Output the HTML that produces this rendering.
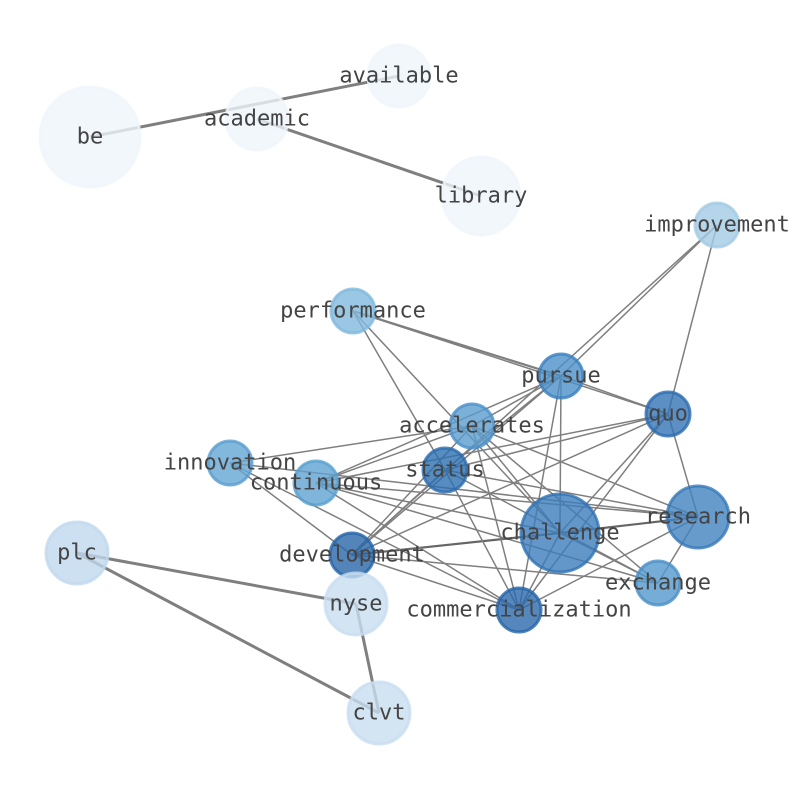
<!DOCTYPE html>
<html><head><meta charset="utf-8"><style>html,body{margin:0;padding:0;background:#fff}</style></head>
<body>
<svg width="794" height="790" viewBox="0 0 794 790" xmlns="http://www.w3.org/2000/svg">
<g stroke="#7f7f7f" stroke-width="3">
<line x1="90" y1="137" x2="399" y2="76"/>
<line x1="257" y1="119" x2="481" y2="196"/>
<line x1="77" y1="553" x2="356" y2="604"/>
<line x1="77" y1="553" x2="379" y2="713"/>
<line x1="356" y1="604" x2="379" y2="713"/>
<line x1="352" y1="555" x2="560" y2="533" stroke-width="2.2" stroke="#666"/>
<line x1="560" y1="533" x2="698" y2="517" stroke-width="2.2" stroke="#666"/>
<line x1="353" y1="311" x2="561" y2="376" stroke-width="2.2"/>
</g>
<g stroke="#7f7f7f" stroke-width="1.5">
<line x1="717" y1="225" x2="561" y2="376"/>
<line x1="717" y1="225" x2="352" y2="555"/>
<line x1="717" y1="225" x2="668" y2="414"/>
<line x1="353" y1="311" x2="668" y2="414"/>
<line x1="353" y1="311" x2="445" y2="470"/>
<line x1="353" y1="311" x2="560" y2="533"/>
<line x1="561" y1="376" x2="668" y2="414"/>
<line x1="561" y1="376" x2="472" y2="426"/>
<line x1="561" y1="376" x2="316" y2="483"/>
<line x1="561" y1="376" x2="352" y2="555"/>
<line x1="561" y1="376" x2="560" y2="533"/>
<line x1="561" y1="376" x2="519" y2="610"/>
<line x1="561" y1="376" x2="445" y2="470"/>
<line x1="668" y1="414" x2="316" y2="483"/>
<line x1="668" y1="414" x2="445" y2="470"/>
<line x1="668" y1="414" x2="352" y2="555"/>
<line x1="668" y1="414" x2="519" y2="610"/>
<line x1="668" y1="414" x2="560" y2="533"/>
<line x1="668" y1="414" x2="698" y2="517"/>
<line x1="472" y1="426" x2="230" y2="463"/>
<line x1="472" y1="426" x2="316" y2="483"/>
<line x1="472" y1="426" x2="352" y2="555"/>
<line x1="472" y1="426" x2="560" y2="533"/>
<line x1="472" y1="426" x2="519" y2="610"/>
<line x1="472" y1="426" x2="698" y2="517"/>
<line x1="472" y1="426" x2="658" y2="583"/>
<line x1="230" y1="463" x2="698" y2="517"/>
<line x1="230" y1="463" x2="519" y2="610"/>
<line x1="230" y1="463" x2="352" y2="555"/>
<line x1="316" y1="483" x2="698" y2="517"/>
<line x1="316" y1="483" x2="658" y2="583"/>
<line x1="316" y1="483" x2="519" y2="610"/>
<line x1="316" y1="483" x2="560" y2="533"/>
<line x1="445" y1="470" x2="519" y2="610"/>
<line x1="445" y1="470" x2="658" y2="583"/>
<line x1="445" y1="470" x2="352" y2="555"/>
<line x1="445" y1="470" x2="698" y2="517"/>
<line x1="560" y1="533" x2="519" y2="610"/>
<line x1="560" y1="533" x2="658" y2="583"/>
<line x1="698" y1="517" x2="519" y2="610"/>
<line x1="698" y1="517" x2="658" y2="583"/>
<line x1="352" y1="555" x2="658" y2="583"/>
<line x1="352" y1="555" x2="519" y2="610"/>
</g>
<g stroke-width="3" fill-opacity="0.8" stroke-opacity="0.8">
<circle cx="90" cy="137" r="50" fill="#eff5fb" stroke="#eff5fb"/>
<circle cx="257" cy="119" r="31" fill="#eff5fb" stroke="#eff5fb"/>
<circle cx="399" cy="76" r="31" fill="#eff5fb" stroke="#eff5fb"/>
<circle cx="481" cy="196" r="39" fill="#eff5fb" stroke="#eff5fb"/>
<circle cx="717" cy="225" r="22" fill="#a3cbe5" stroke="#a3cbe5"/>
<circle cx="353" cy="311" r="22" fill="#7fb9dd" stroke="#7fb9dd"/>
<circle cx="561" cy="376" r="22" fill="#4b90c9" stroke="#3a80bf"/>
<circle cx="668" cy="414" r="22" fill="#3373b4" stroke="#2a6aae"/>
<circle cx="472" cy="426" r="22" fill="#5a9cd0" stroke="#4b90c9"/>
<circle cx="230" cy="463" r="22" fill="#64a6d4" stroke="#5a9cd0"/>
<circle cx="316" cy="483" r="22" fill="#60a2d2" stroke="#56a0d0"/>
<circle cx="445" cy="470" r="22" fill="#2c6fb0" stroke="#2a6aae"/>
<circle cx="560" cy="533" r="39" fill="#3c7dbb" stroke="#2f72b3"/>
<circle cx="698" cy="517" r="31" fill="#4182bf" stroke="#3478b8"/>
<circle cx="352" cy="555" r="22" fill="#2867aa" stroke="#2464a8"/>
<circle cx="658" cy="583" r="22" fill="#5398cc" stroke="#4a8fc7"/>
<circle cx="519" cy="610" r="22" fill="#2a69ac" stroke="#2464a8"/>
<circle cx="356" cy="604" r="31" fill="#c8ddf0" stroke="#c8ddf0"/>
<circle cx="77" cy="553" r="31" fill="#c1d8ee" stroke="#c1d8ee"/>
<circle cx="379" cy="713" r="31" fill="#c8ddf0" stroke="#c8ddf0"/>
</g>
<g font-family="'DejaVu Sans Mono','Liberation Mono',monospace" font-size="22" fill="#444" text-anchor="middle" dominant-baseline="central">
<text x="90" y="137">be</text>
<text x="257" y="119">academic</text>
<text x="399" y="76">available</text>
<text x="481" y="196">library</text>
<text x="717" y="225">improvement</text>
<text x="353" y="311">performance</text>
<text x="561" y="376">pursue</text>
<text x="668" y="414">quo</text>
<text x="472" y="426">accelerates</text>
<text x="230" y="463">innovation</text>
<text x="316" y="483">continuous</text>
<text x="445" y="470">status</text>
<text x="560" y="533">challenge</text>
<text x="698" y="517">research</text>
<text x="352" y="555">development</text>
<text x="658" y="583">exchange</text>
<text x="519" y="610">commercialization</text>
<text x="356" y="604">nyse</text>
<text x="77" y="553">plc</text>
<text x="379" y="713">clvt</text>
</g>
</svg>
</body></html>
